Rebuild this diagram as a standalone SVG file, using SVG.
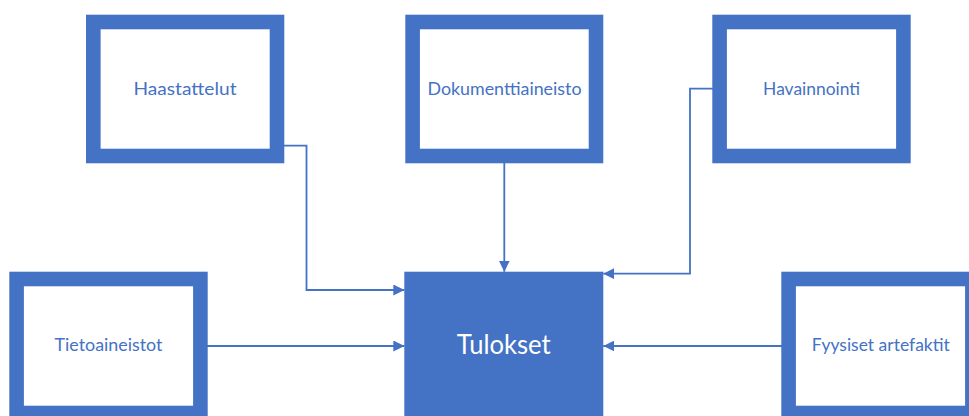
<svg xmlns="http://www.w3.org/2000/svg" width="969" height="416" viewBox="0 0 969 416">
  <style>
    .frame { fill: #ffffff; stroke: #4472c4; stroke-width: 14.6; }
    .solid { fill: #4472c4; stroke: none; }
    .label { font-family: Lato, "Open Sans", "Liberation Sans", sans-serif; font-size: 17.6px; fill: #4472c4; text-anchor: middle; }
    .title { font-family: Lato, "Open Sans", "Liberation Sans", sans-serif; font-size: 26px; fill: #ffffff; text-anchor: middle; }
    .link { fill: none; stroke: #4472c4; stroke-width: 1.8; }
  </style>
  <defs>
    <marker id="arrow" viewBox="0 0 11 11" refX="11" refY="5.5" markerWidth="11" markerHeight="11" markerUnits="userSpaceOnUse" orient="auto">
      <path d="M0,0 L11,5.5 L0,11 z" fill="#4472c4"/>
    </marker>
  </defs>
  <rect width="969" height="416" fill="#ffffff"/>

  <g id="connectors">
    <path class="link" d="M277,145.7 H306.5 V290 H404.3" marker-end="url(#arrow)"/>
    <path class="link" d="M504.3,156 V271.7" marker-end="url(#arrow)"/>
    <path class="link" d="M719,88.7 H690 V273.7 H603.3" marker-end="url(#arrow)"/>
    <path class="link" d="M200,346 H404.3" marker-end="url(#arrow)"/>
    <path class="link" d="M788,346 H603.3" marker-end="url(#arrow)"/>
  </g>

  <g id="haastattelut">
    <rect class="frame" x="93.3" y="22" width="183.7" height="134"/>
    <text class="label" x="185" y="95" textLength="103" lengthAdjust="spacingAndGlyphs">Haastattelut</text>
  </g>

  <g id="dokumenttiaineisto">
    <rect class="frame" x="412.6" y="22" width="183.4" height="134"/>
    <text class="label" x="504.5" y="95" textLength="154" lengthAdjust="spacingAndGlyphs">Dokumenttiaineisto</text>
  </g>

  <g id="havainnointi">
    <rect class="frame" x="719.6" y="22" width="183.8" height="134"/>
    <text class="label" x="811.6" y="95" textLength="97" lengthAdjust="spacingAndGlyphs">Havainnointi</text>
  </g>

  <g id="tietoaineistot">
    <rect class="frame" x="16.6" y="279" width="183.8" height="134"/>
    <text class="label" x="108.5" y="351" textLength="108" lengthAdjust="spacingAndGlyphs">Tietoaineistot</text>
  </g>

  <g id="tulokset">
    <rect class="solid" x="404.3" y="271.7" width="199" height="150"/>
    <text class="title" x="503.7" y="354.3" textLength="94" lengthAdjust="spacingAndGlyphs">Tulokset</text>
  </g>

  <g id="fyysiset-artefaktit">
    <rect class="frame" x="788.6" y="279" width="183.8" height="134"/>
    <text class="label" x="880.8" y="351" textLength="138" lengthAdjust="spacingAndGlyphs">Fyysiset artefaktit</text>
  </g>
</svg>
